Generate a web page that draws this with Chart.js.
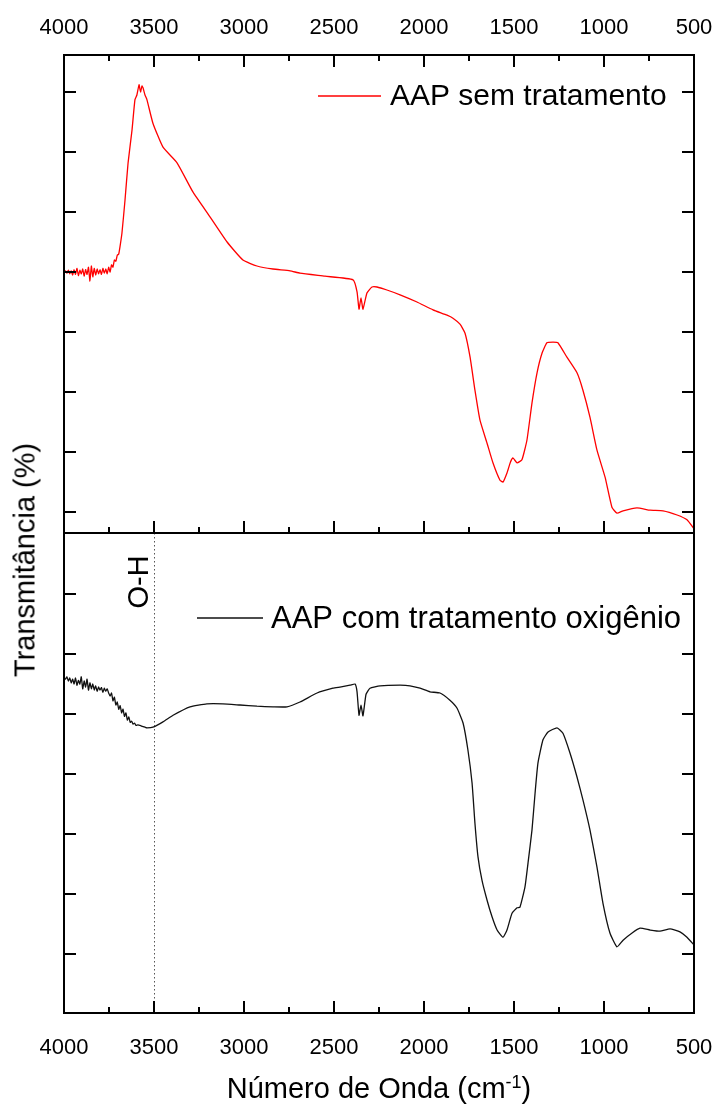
<!DOCTYPE html>
<html lang="pt">
<head>
<meta charset="utf-8">
<title>FTIR - AAP</title>
<script src="https://cdn.jsdelivr.net/npm/chart.js@4.4.1/dist/chart.umd.min.js"></script>
<style>
    html, body { margin: 0; padding: 0; background: #fff; }
    #wrap { position: relative; width: 718px; height: 1104px; overflow: hidden;
            font-family: "Liberation Sans", Arial, sans-serif; color: #000; }
    canvas { position: absolute; left: 0; }
    #graficoSem { top: 0; }
    #graficoCom { top: 531px; }
    .titulo { position: absolute; font-size: 29px; white-space: nowrap; line-height: 1; }
    #tituloY { left: 25px; top: 560px; transform: translate(-50%, -50%) rotate(-90deg); }
    #tituloX { left: 379px; top: 1088px; transform: translate(-50%, -50%); }
    #tituloX sup { font-size: 18px; }
</style>
</head>
<body>
<div id="wrap">
    <canvas id="graficoSem" width="718" height="535"></canvas>
    <canvas id="graficoCom" width="718" height="573"></canvas>
    <div class="titulo" id="tituloY">Transmitância (%)</div>
    <div class="titulo" id="tituloX">Número de Onda (cm<sup>-1</sup>)</div>
</div>
<script>
// ==========================================
// Espectros FTIR do AAP
// antes e depois do tratamento com oxigênio
// ==========================================

// número de onda (cm-1) e transmitância (u.a.) - AAP sem tratamento
const ondaSem = [4000, 3992, 3984, 3976, 3968, 3960, 3952, 3944, 3936, 3928, 3920, 3912, 3904, 3896, 3888,
                 3880, 3872, 3864, 3856, 3848, 3840, 3832, 3824, 3816, 3808, 3800, 3792, 3784, 3776, 3768,
                 3760, 3752, 3744, 3736, 3728, 3720, 3712, 3704, 3696, 3689,
                 3678, 3661, 3644, 3622, 3606, 3595, 3583, 3575, 3567, 3561, 3550, 3539, 3506, 3450, 3372,
                 3283, 3189, 3094, 3006, 2928, 2839, 2744, 2689, 2550, 2394, 2372, 2361, 2350, 2339, 2317,
                 2289, 2261, 2206, 2133, 2039, 1950, 1872, 1839, 1800, 1772, 1744, 1717, 1689, 1650, 1617,
                 1578, 1561, 1539, 1520, 1506, 1483, 1456, 1428, 1400, 1372, 1344, 1317, 1283, 1256, 1206,
                 1150, 1117, 1078, 1039, 994, 956, 928, 894, 817, 744, 672, 594, 539, 500];
const transSem = [4.00, 4.02, 3.98, 4.03, 3.97, 4.02, 3.95, 4.04, 3.96, 4.06, 3.94, 4.03, 3.97, 4.05, 3.93,
                  4.04, 3.96, 4.08, 3.85, 4.10, 3.92, 4.06, 3.95, 4.05, 3.97, 4.04, 3.96, 4.06, 3.98, 4.05,
                  3.97, 4.08, 4.00, 4.12, 4.08, 4.20, 4.18, 4.28, 4.30, 4.42,
                  4.65, 5.20, 5.82, 6.37, 6.87, 6.95, 7.12, 7.00, 7.10, 7.07, 6.95, 6.87, 6.48, 6.08, 5.82,
                  5.33, 4.92, 4.50, 4.20, 4.10, 4.05, 4.02, 3.98, 3.93, 3.87, 3.67, 3.38, 3.57, 3.38, 3.65,
                  3.75, 3.75, 3.70, 3.62, 3.50, 3.37, 3.28, 3.23, 3.13, 2.98, 2.58, 2.03, 1.53, 1.15, 0.82,
                  0.53, 0.50, 0.65, 0.83, 0.90, 0.82, 0.87, 1.20, 1.82, 2.32, 2.65, 2.82, 2.83, 2.82, 2.58,
                  2.32, 2.03, 1.58, 1.03, 0.58, 0.08, -0.02, 0.02, 0.07, 0.03, 0.02, -0.05, -0.13, -0.28];

// AAP com tratamento oxigênio
const ondaCom = [4000, 3992, 3984, 3976, 3968, 3960, 3952, 3944, 3936, 3928, 3920, 3912, 3904, 3896, 3888,
                 3880, 3872, 3864, 3856, 3848, 3840, 3832, 3824, 3816, 3808, 3800, 3792, 3784, 3776, 3768,
                 3760, 3752, 3744, 3736, 3728, 3720, 3712, 3704, 3696, 3688, 3680, 3672, 3664, 3656, 3648,
                 3640, 3632, 3624, 3616, 3608, 3600,
                 3589, 3570, 3550, 3539, 3506, 3450, 3394, 3300, 3206, 3117, 3022, 2928, 2839, 2761, 2689,
                 2594, 2506, 2467, 2411, 2383, 2372, 2361, 2350, 2339, 2322, 2300, 2244, 2133, 2078, 2022,
                 1967, 1911, 1856, 1817, 1783, 1756, 1733, 1717, 1700, 1678, 1650, 1622, 1594, 1561, 1539,
                 1511, 1483, 1467, 1439, 1422, 1400, 1383, 1367, 1339, 1311, 1261, 1228, 1189, 1150, 1117,
                 1078, 1039, 1006, 967, 928, 894, 844, 800, 744, 689, 633, 578, 539, 500];
const transCom = [4.60, 4.58, 4.62, 4.55, 4.60, 4.52, 4.58, 4.50, 4.60, 4.48, 4.56, 4.50, 4.62, 4.42, 4.55,
                  4.45, 4.58, 4.40, 4.52, 4.42, 4.50, 4.40, 4.47, 4.38, 4.45, 4.40, 4.44, 4.36, 4.43, 4.38,
                  4.42, 4.35, 4.30, 4.35, 4.22, 4.28, 4.15, 4.20, 4.08, 4.14, 4.02, 4.08, 3.96, 4.02, 3.90,
                  3.95, 3.86, 3.88, 3.83, 3.85, 3.81,
                  3.82, 3.80, 3.78, 3.77, 3.78, 3.87, 3.98, 4.12, 4.17, 4.17, 4.15, 4.13, 4.12, 4.12, 4.20,
                  4.35, 4.43, 4.45, 4.48, 4.50, 4.37, 3.98, 4.15, 3.97, 4.33, 4.43, 4.47, 4.48, 4.47, 4.43,
                  4.37, 4.35, 4.23, 4.10, 3.85, 3.40, 2.85, 2.18, 1.62, 1.23, 0.90, 0.62, 0.40, 0.28, 0.40,
                  0.68, 0.77, 0.78, 1.12, 1.52, 2.07, 2.68, 3.18, 3.57, 3.70, 3.77, 3.68, 3.35, 2.95, 2.57,
                  2.07, 1.45, 0.85, 0.35, 0.12, 0.23, 0.35, 0.43, 0.40, 0.38, 0.42, 0.37, 0.28, 0.15];

// marcas dos eixos
const ticksX = [4000, 3500, 3000, 2500, 2000, 1500, 1000, 500];
const ticksYSem = [0, 1, 2, 3, 4, 5, 6, 7];
const ticksYCom = [0, 1, 2, 3, 4, 5, 6];
const bandaOH = 3500;

const FONTE = '"Liberation Sans", Arial, sans-serif';

const pontos = (xs, ys) => xs.map((x, i) => ({ x: x, y: ys[i] }));

// moldura com marcas para dentro (maiores a cada 500, menores a cada 250)
const moldura = {
    id: "moldura",
    afterDatasetsDraw(chart, args, o) {
        const { ctx, chartArea: a } = chart;
        const sx = chart.scales.x, sy = chart.scales.y;
        ctx.save();
        ctx.strokeStyle = "#000";
        ctx.lineWidth = 2;
        ctx.strokeRect(a.left, a.top, a.right - a.left, a.bottom - a.top);
        ctx.beginPath();
        const marca = (v, len) => {
            const px = Math.round(sx.getPixelForValue(v));
            if (o.topo) { ctx.moveTo(px, a.top); ctx.lineTo(px, a.top + len); }
            if (o.base) { ctx.moveTo(px, a.bottom); ctx.lineTo(px, a.bottom - len); }
        };
        ticksX.forEach(v => marca(v, 12));
        for (let i = 0; i < ticksX.length - 1; i++) marca((ticksX[i] + ticksX[i + 1]) / 2, 6);
        o.ticksY.forEach(v => {
            const py = Math.round(sy.getPixelForValue(v));
            ctx.moveTo(a.left, py); ctx.lineTo(a.left + 12, py);
            ctx.moveTo(a.right, py); ctx.lineTo(a.right - 12, py);
        });
        ctx.stroke();
        ctx.restore();
    }
};

// legenda dentro da área do gráfico
const legenda = {
    id: "legenda",
    afterDraw(chart, args, o) {
        const { ctx, chartArea: a } = chart;
        const ds = chart.data.datasets[0];
        const y = a.top + o.y;
        ctx.save();
        ctx.strokeStyle = ds.borderColor;
        ctx.lineWidth = 1.3;
        ctx.beginPath();
        ctx.moveTo(a.left + o.x0, y);
        ctx.lineTo(a.left + o.x1, y);
        ctx.stroke();
        ctx.fillStyle = "#000";
        ctx.font = o.fonte + "px " + FONTE;
        ctx.textBaseline = "middle";
        ctx.fillText(ds.label, a.left + o.xt, y + 1);
        ctx.restore();
    }
};

// linha pontilhada da banda O-H
const marcaOH = {
    id: "marcaOH",
    beforeDatasetsDraw(chart, args, o) {
        if (!o.ativo) return;
        const { ctx, chartArea: a } = chart;
        const px = Math.round(chart.scales.x.getPixelForValue(bandaOH)) + 0.5;
        ctx.save();
        ctx.strokeStyle = "#555";
        ctx.lineWidth = 1;
        ctx.setLineDash([1.5, 2.5]);
        ctx.beginPath();
        ctx.moveTo(px, a.top);
        ctx.lineTo(px, a.bottom);
        ctx.stroke();
        ctx.setLineDash([]);
        ctx.translate(px - 15, a.top + 49);
        ctx.rotate(-Math.PI / 2);
        ctx.fillStyle = "#000";
        ctx.font = "29px " + FONTE;
        ctx.textAlign = "center";
        ctx.textBaseline = "middle";
        ctx.fillText("O-H", 0, 0);
        ctx.restore();
    }
};

// eixo x sem a folga lateral que o Chart.js reserva para os rótulos das pontas
function eixoX(posicao, rotulos, altura, padding) {
    return {
        type: "linear", position: posicao, reverse: true, min: 500, max: 4000,
        grid: { display: false, drawTicks: false }, border: { display: false },
        ticks: {
            display: rotulos, stepSize: 500, padding: padding, color: "#000", maxRotation: 0,
            font: { family: FONTE, size: 22 }, callback: v => String(v)
        },
        afterFit: s => { s.height = altura; s.paddingLeft = 0; s.paddingRight = 0; }
    };
}

function eixoY(posicao, min, max, largura) {
    return {
        type: "linear", position: posicao, min: min, max: max,
        grid: { display: false, drawTicks: false }, border: { display: false },
        ticks: { display: false },
        afterFit: s => { s.width = largura; s.paddingTop = 0; s.paddingBottom = 0; }
    };
}

function configurar(serie, cor, escalas, extras) {
    return {
        type: "line",
        data: {
            datasets: [{
                label: serie.nome,
                data: pontos(serie.x, serie.y),
                borderColor: cor, borderWidth: 1.3,
                pointRadius: 0, tension: 0.15, fill: false
            }]
        },
        options: {
            responsive: false, animation: false, events: [],
            layout: { padding: extras.padding },
            plugins: {
                legend: { display: false }, tooltip: { enabled: false },
                moldura: extras.moldura, legenda: extras.legenda, marcaOH: extras.marcaOH
            },
            scales: escalas
        },
        plugins: [marcaOH, moldura, legenda]
    };
}

new Chart(document.getElementById("graficoSem"), configurar(
    { nome: "AAP sem tratamento", x: ondaSem, y: transSem }, "#ff0000",
    {
        x: eixoX("top", true, 55, 14),
        xb: eixoX("bottom", false, 2, 0),
        y: eixoY("left", -0.35, 7.6167, 64),
        yr: eixoY("right", 0, 1, 24)
    },
    {
        padding: 0,
        moldura: { topo: true, base: true, ticksY: ticksYSem },
        legenda: { x0: 254, x1: 317, xt: 326, y: 41, fonte: 30 },
        marcaOH: { ativo: false }
    }
));

new Chart(document.getElementById("graficoCom"), configurar(
    { nome: "AAP com tratamento oxigênio", x: ondaCom, y: transCom }, "#111111",
    {
        x: eixoX("bottom", true, 91, 22),
        y: eixoY("left", -0.983, 7.017, 64),
        yr: eixoY("right", 0, 1, 24)
    },
    {
        padding: { top: 2 },
        moldura: { topo: false, base: true, ticksY: ticksYCom },
        legenda: { x0: 133, x1: 199, xt: 207, y: 85, fonte: 31 },
        marcaOH: { ativo: true }
    }
));
</script>
</body>
</html>
